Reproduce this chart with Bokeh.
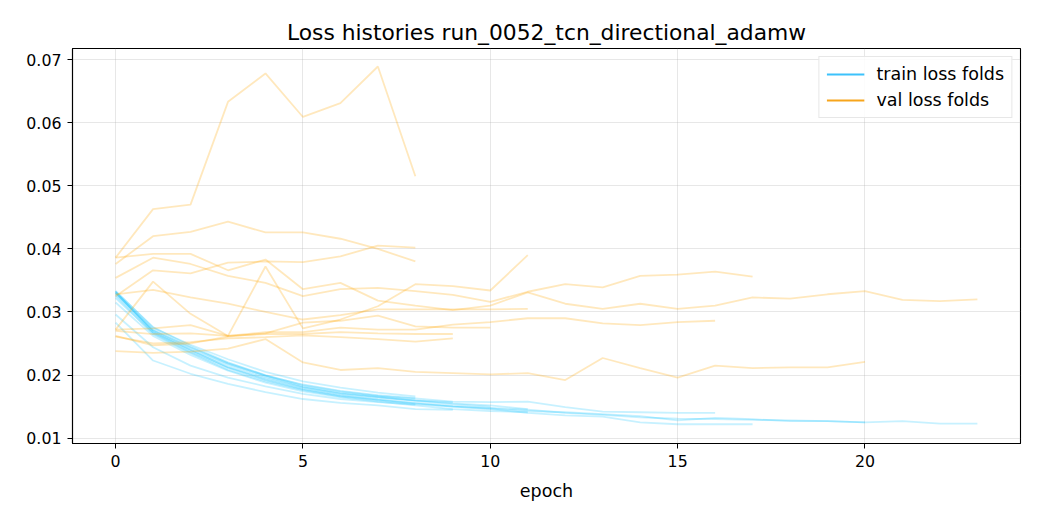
from bokeh.plotting import figure
from bokeh.models import (FixedTicker, PrintfTickFormatter, Legend, LegendItem,
                          Range1d)
from bokeh.embed import file_html
from bokeh.resources import INLINE

TITLE = "Loss histories run_0052_tcn_directional_adamw"
X_LABEL = "epoch"
TRAIN_LABEL = "train loss folds"
VAL_LABEL = "val loss folds"
Y_TICKS = [0.01, 0.02, 0.03, 0.04, 0.05, 0.06, 0.07]
X_TICKS = [0, 5, 10, 15, 20]

# train loss per fold (one value per epoch)
train_f1 = [0.0331, 0.0272, 0.0243, 0.0218, 0.0199, 0.0185, 0.0175, 0.0168, 0.0163]
train_f2 = [0.0333, 0.0275, 0.0248, 0.0225, 0.0205, 0.0190, 0.0180, 0.0172, 0.0166]
train_f3 = [0.0296, 0.0244, 0.0215, 0.0196, 0.0182, 0.0170, 0.0162, 0.0157, 0.0153]
train_f4 = [0.0330, 0.0270, 0.0240, 0.0212, 0.0193, 0.0178, 0.0168, 0.0161, 0.0155, 0.0150,
            0.0147, 0.0143, 0.0141, 0.0138, 0.0135, 0.0128, 0.0132, 0.0130, 0.0127, 0.0127,
            0.0125, 0.0127, 0.0123, 0.0123]
train_f5 = [0.0325, 0.0265, 0.0235, 0.0208, 0.0190, 0.0176, 0.0166, 0.0160, 0.0154, 0.0150,
            0.0146, 0.0140, 0.0136, 0.0134, 0.0125, 0.0122, 0.0122, 0.0122]
train_f6 = [0.0332, 0.0268, 0.0238, 0.0213, 0.0195, 0.0180, 0.0170, 0.0164, 0.0160, 0.0155,
            0.0152, 0.0146]
train_f7 = [0.0315, 0.0262, 0.0232, 0.0207, 0.0188, 0.0174, 0.0165, 0.0158, 0.0152, 0.0146,
            0.0143, 0.0141]
train_f8 = [0.0333, 0.0276, 0.0246, 0.0220, 0.0200, 0.0184, 0.0174, 0.0167, 0.0163, 0.0158,
            0.0157, 0.0158, 0.0149, 0.0142, 0.0141, 0.0140, 0.0140]
train_f9 = [0.0328, 0.0268, 0.0240, 0.0216, 0.0197, 0.0181, 0.0171, 0.0165, 0.0159, 0.0154,
            0.0150]
train_f10 = [0.0283, 0.0223, 0.0202, 0.0186, 0.0173, 0.0162, 0.0156, 0.0152, 0.0146, 0.0145]
train_f11 = [0.0330, 0.0271, 0.0244, 0.0219, 0.0199, 0.0182, 0.0172, 0.0166, 0.0160, 0.0157]
train_f12 = [0.0322, 0.0266, 0.0236, 0.0211, 0.0192, 0.0177, 0.0167, 0.0161, 0.0156, 0.0151,
             0.0148, 0.0145, 0.0140, 0.0137, 0.0133, 0.0131, 0.0130, 0.0129, 0.0128, 0.0127,
             0.0125]

# validation loss per fold
val_f1 = [0.0386, 0.0463, 0.0470, 0.0633, 0.0678, 0.0609, 0.0631, 0.0689, 0.0515]
val_f2 = [0.0376, 0.0420, 0.0427, 0.0443, 0.0426, 0.0426, 0.0416, 0.0400, 0.0380]
val_f3 = [0.0325, 0.0366, 0.0361, 0.0378, 0.0380, 0.0379, 0.0388, 0.0405, 0.0402]
val_f4 = [0.0386, 0.0392, 0.0392, 0.0366, 0.0383, 0.0336, 0.0346, 0.0318, 0.0310, 0.0303,
          0.0310, 0.0331, 0.0313, 0.0305, 0.0313, 0.0305, 0.0310, 0.0323, 0.0321, 0.0328,
          0.0333, 0.0319, 0.0317, 0.0320]
val_f5 = [0.0354, 0.0386, 0.0376, 0.0357, 0.0346, 0.0325, 0.0336, 0.0338, 0.0333, 0.0327,
          0.0316, 0.0332, 0.0344, 0.0339, 0.0357, 0.0359, 0.0364, 0.0356]
val_f6 = [0.0272, 0.0348, 0.0297, 0.0262, 0.0372, 0.0274, 0.0288, 0.0309, 0.0344, 0.0341,
          0.0334, 0.0390]
val_f7 = [0.0328, 0.0335, 0.0323, 0.0313, 0.0300, 0.0288, 0.0295, 0.0304, 0.0304, 0.0304,
          0.0304, 0.0305]
val_f8 = [0.0272, 0.0274, 0.0279, 0.0262, 0.0268, 0.0268, 0.0275, 0.0272, 0.0272, 0.0280,
          0.0284, 0.0290, 0.0290, 0.0282, 0.0279, 0.0284, 0.0286]
val_f9 = [0.0262, 0.0247, 0.0250, 0.0261, 0.0266, 0.0283, 0.0286, 0.0294, 0.0277, 0.0275,
          0.0275]
val_f10 = [0.0270, 0.0265, 0.0266, 0.0262, 0.0265, 0.0265, 0.0268, 0.0266, 0.0265, 0.0265]
val_f11 = [0.0261, 0.0250, 0.0252, 0.0258, 0.0260, 0.0263, 0.0260, 0.0257, 0.0253, 0.0258]
val_f12 = [0.0238, 0.0235, 0.0237, 0.0242, 0.0257, 0.0220, 0.0208, 0.0211, 0.0205, 0.0203,
           0.0201, 0.0203, 0.0192, 0.0227, 0.0211, 0.0196, 0.0215, 0.0211, 0.0212, 0.0212,
           0.0221]

train_folds = [train_f1, train_f2, train_f3, train_f4, train_f5, train_f6,
               train_f7, train_f8, train_f9, train_f10, train_f11, train_f12]
val_folds = [val_f1, val_f2, val_f3, val_f4, val_f5, val_f6,
             val_f7, val_f8, val_f9, val_f10, val_f11, val_f12]

FONT = "DejaVu Sans"
NAN = float("nan")

p = figure(width=1032, height=512, output_backend="svg", toolbar_location=None,
           x_range=Range1d(-1.15, 24.15), y_range=Range1d(0.00915, 0.07175),
           min_border_left=72, min_border_right=12, min_border_top=48,
           min_border_bottom=69)

p.title.text = TITLE
p.title.align = "center"
p.title.text_font = FONT
p.title.text_font_size = "21.8px"
p.title.text_font_style = "normal"
p.title.text_color = "black"
p.title.standoff = 8

for t in train_folds:
    p.line(x=list(range(len(t))), y=t, line_color="deepskyblue", line_alpha=0.22,
           line_width=1.8)
for v in val_folds:
    p.line(x=list(range(len(v))), y=v, line_color="orange", line_alpha=0.26,
           line_width=1.8)

# legend proxies (not visible in the plot area)
r_train = p.line(x=[NAN], y=[NAN], line_color="#3cc2fb", line_width=2.2)
r_val = p.line(x=[NAN], y=[NAN], line_color="#f7a51c", line_width=2.2)
legend = Legend(items=[LegendItem(label=TRAIN_LABEL, renderers=[r_train]),
                       LegendItem(label=VAL_LABEL, renderers=[r_val])],
                location="top_right")
legend.label_text_font = FONT
legend.label_text_font_size = "17.5px"
legend.label_text_color = "black"
legend.label_standoff = 12
legend.glyph_width = 38
legend.glyph_height = 20
legend.label_height = 20
legend.spacing = 6
legend.padding = 7
legend.margin = 8
legend.border_line_color = "#d0d0d0"
legend.border_line_width = 1
legend.background_fill_alpha = 0.85
p.add_layout(legend)

p.xaxis.ticker = FixedTicker(ticks=X_TICKS)
p.yaxis.ticker = FixedTicker(ticks=Y_TICKS)
p.yaxis.formatter = PrintfTickFormatter(format="%.2f")
p.xaxis.axis_label = X_LABEL
for ax in (p.xaxis, p.yaxis):
    ax.major_label_text_font = FONT
    ax.major_label_text_font_size = "15.8px"
    ax.major_label_text_color = "black"
    ax.axis_label_text_font = FONT
    ax.axis_label_text_font_size = "17.5px"
    ax.axis_label_text_font_style = "normal"
    ax.axis_label_text_color = "black"
    ax.axis_line_color = "black"
    ax.major_tick_line_color = "black"
    ax.major_tick_out = 5
    ax.major_tick_in = 0
    ax.minor_tick_line_color = None
    ax.axis_line_width = 1.1
p.xaxis.axis_label_standoff = 11
p.xaxis.major_label_standoff = 6
p.yaxis.major_label_standoff = 6

p.grid.grid_line_color = "#b0b0b0"
p.grid.grid_line_alpha = 0.3
p.outline_line_color = "black"
p.outline_line_width = 1.1
p.outline_line_alpha = 1.0

open("out.html", "w").write(file_html(p, INLINE))
